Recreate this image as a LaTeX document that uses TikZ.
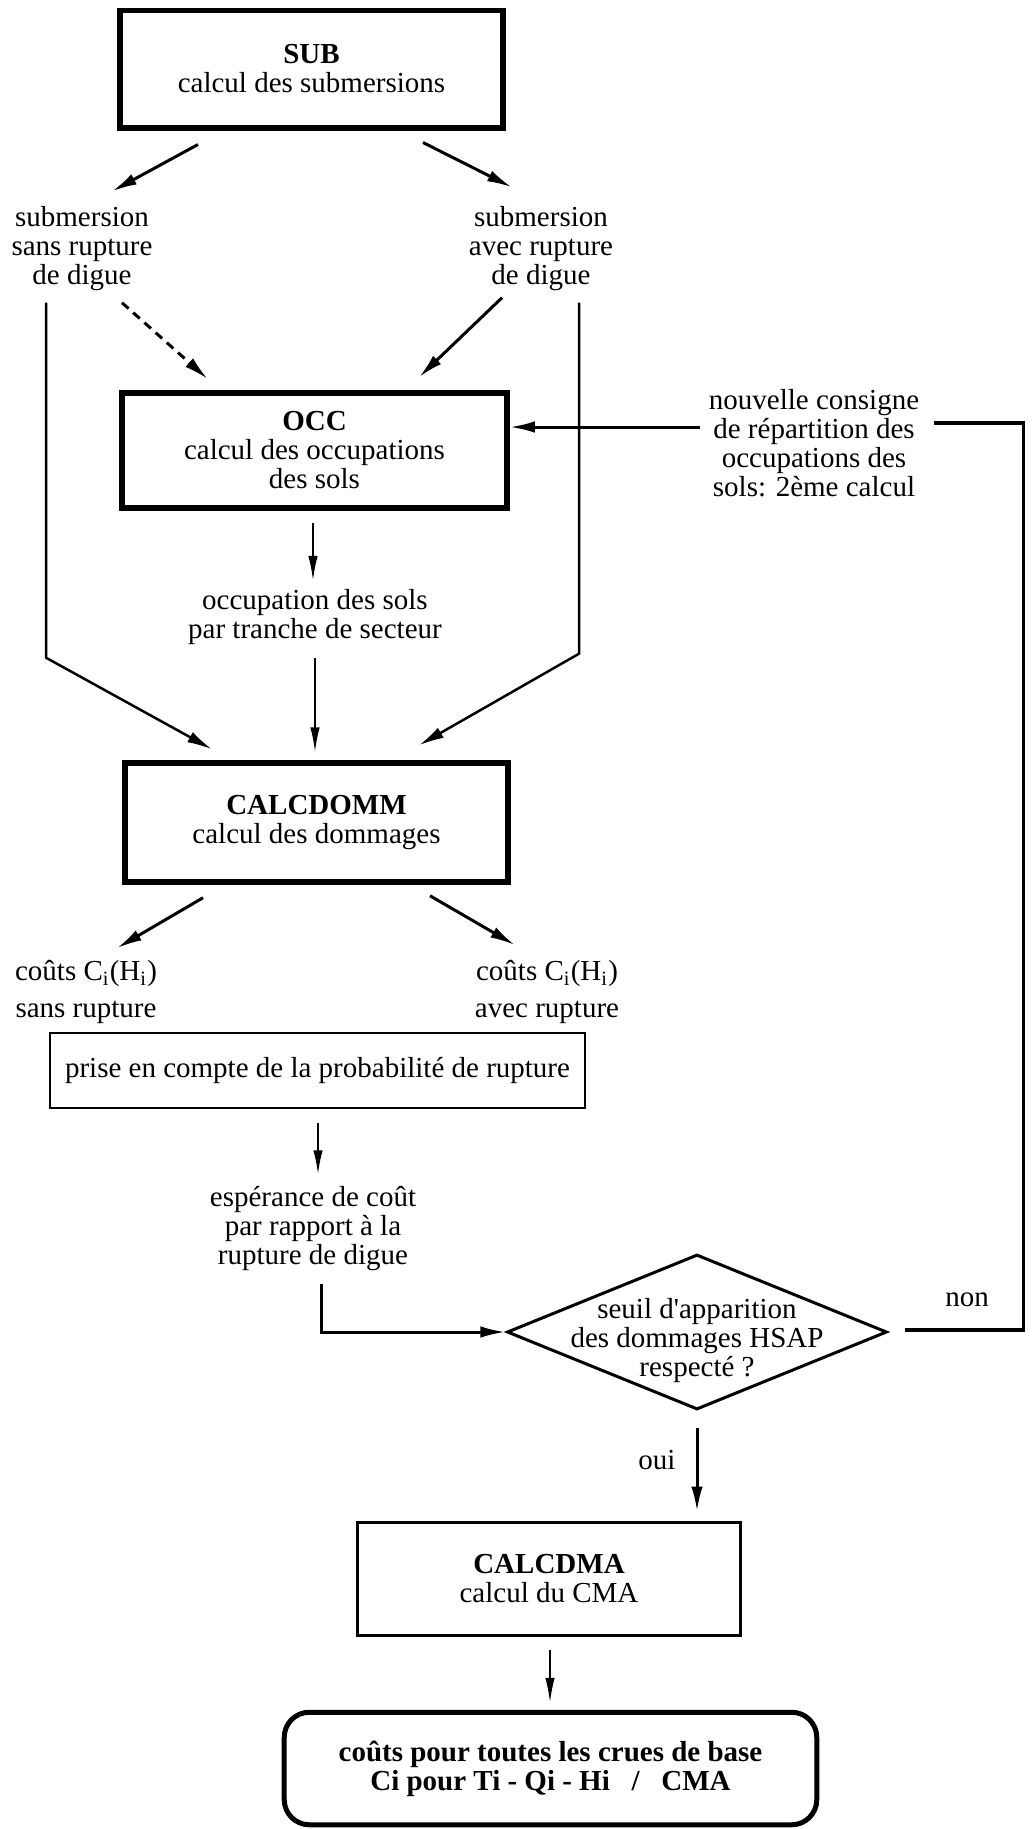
\documentclass[tikz,border=0pt]{standalone}
\usepackage{fontspec}
\setmainfont{Liberation Serif}
\usetikzlibrary{shapes.geometric,arrows.meta,calc}

\begin{document}
\begin{tikzpicture}[x=0.4pt,y=-0.4pt,
	every node/.style={font=\fontsize{11.6}{11.6}\selectfont,align=center,inner sep=0pt},
	module/.style={draw,rectangle,line width=2.2pt,minimum width=153pt,minimum height=47pt},
	plainbox/.style={draw,rectangle,line width=1pt},
	decision/.style={draw,diamond,line width=1.2pt,minimum width=152pt,minimum height=62pt},
	result/.style={draw,rectangle,rounded corners=10pt,line width=2pt,minimum width=213pt,minimum height=45pt,font=\fontsize{11.6}{11.6}\selectfont\bfseries},
	arrow/.style={-{Latex[length=10pt,width=4.6pt]},line width=1.2pt},
	thinarrow/.style={-{Latex[length=10pt,width=3.8pt]},line width=0.8pt},
	link/.style={line width=1pt}]

	\path[fill=white] (0,0) rectangle (1033,1829);

	\node[module] (sub) at (311.5,69) {\textbf{SUB}\\calcul des submersions};
	\node (subsans) at (82,249) {submersion\\sans rupture\\de digue};
	\node (subavec) at (541,249) {submersion\\avec rupture\\de digue};
	\node[module,minimum width=154pt,minimum height=46pt] (occ) at (314.5,450.5) {\textbf{OCC}\\calcul des occupations\\des sols};
	\node (consigne) at (814,443) {nouvelle consigne\\de répartition des\\occupations des\\sols: 2ème calcul};
	\node (occsols) at (315,617) {occupation des sols\\par tranche de secteur};
	\node[module,minimum height=47.6pt] (dom) at (316.5,822.5) {\textbf{CALCDOMM}\\calcul des dommages};
	\node (coutssans) at (86,992) {coûts C\textsubscript{i}(H\textsubscript{i})\\[3pt]sans rupture};
	\node (coutsavec) at (547,992) {coûts C\textsubscript{i}(H\textsubscript{i})\\[3pt]avec rupture};
	\node[plainbox,minimum width=214pt,minimum height=30pt] (prise) at (317.5,1070.5) {prise en compte de la probabilité de rupture};
	\node (esper) at (313,1229) {espérance de coût\\par rapport à la\\rupture de digue};
	\node[decision] (seuil) at (697,1332) {};
	\node (seuiltxt) at (697,1341) {seuil d\textquotesingle apparition\\des dommages HSAP\\respecté ?};
	\node (non) at (967,1300) {non};
	\node (oui) at (657,1460) {oui};
	\node[plainbox,line width=1.2pt,minimum width=152.8pt,minimum height=45.2pt] (cma) at (549,1578.5) {\textbf{CALCDMA}\\calcul du CMA};
	\node[result] (final) at (550.5,1768.5) {coûts pour toutes les crues de base\\Ci pour Ti - Qi - Hi\ \enskip/\ \enskip CMA};

	\draw[arrow] ($(sub.south)+(-113.5,14)$) -- ($(subsans.north)+(30,-15)$);
	\draw[arrow] ($(sub.south)+(111.5,12)$) -- ($(subavec.north)+(-29,-19)$);
	\draw[arrow,dash pattern=on 3.5pt off 2.5pt] ($(subsans.south)+(40,11)$) -- ($(occ.north)+(-106.5,-11)$);
	\draw[arrow] ($(subavec.south)+(-39,6)$) -- ($(occ.north)+(104.5,-13)$);
	\draw[arrow,line width=1pt] ($(subsans.south)+(-36,11)$) -- ++(0,355) -- ($(dom.north)+(-104.5,-11)$);
	\draw[arrow,line width=1pt] ($(subavec.south)+(38,11)$) -- ++(0,351) -- ($(dom.north)+(102.5,-15)$);
	\draw[thinarrow] ($(occ.south)+(-1.5,12)$) -- ($(occsols.north)+(-2,-8)$);
	\draw[thinarrow] ($(occsols.south)+(0,13)$) -- ($(dom.north)+(-1.5,-8)$);
	\draw[arrow] ($(dom.south)+(-113.5,13)$) -- ($(coutssans.north)+(31,-12)$);
	\draw[arrow] ($(dom.south)+(113.5,11)$) -- ($(coutsavec.north)+(-32,-15)$);
	\draw[thinarrow,line width=1pt] ($(prise.south)+(0.5,14)$) -- ($(esper.north)+(5,-11)$);
	\draw[arrow] ($(esper.south)+(8,12)$) |- (seuil.west);
	\draw[arrow] ($(seuil.south)+(0,17)$) -- ($(cma.north)+(148,-9)$);
	\draw[thinarrow] ($(cma.south)+(1,13)$) -- ($(final.north)+(-0.5,-7)$);
	\draw[link,line width=1.3pt] ($(seuil.east)+(16,-2)$) -- ++(119,0) |- ($(consigne.east)+(14,-20)$);
	\coordinate (retour) at ($(consigne.west)+(-8,-16)$);
	\draw[arrow] (retour) -- (retour -| occ.east);

\end{tikzpicture}
\end{document}
